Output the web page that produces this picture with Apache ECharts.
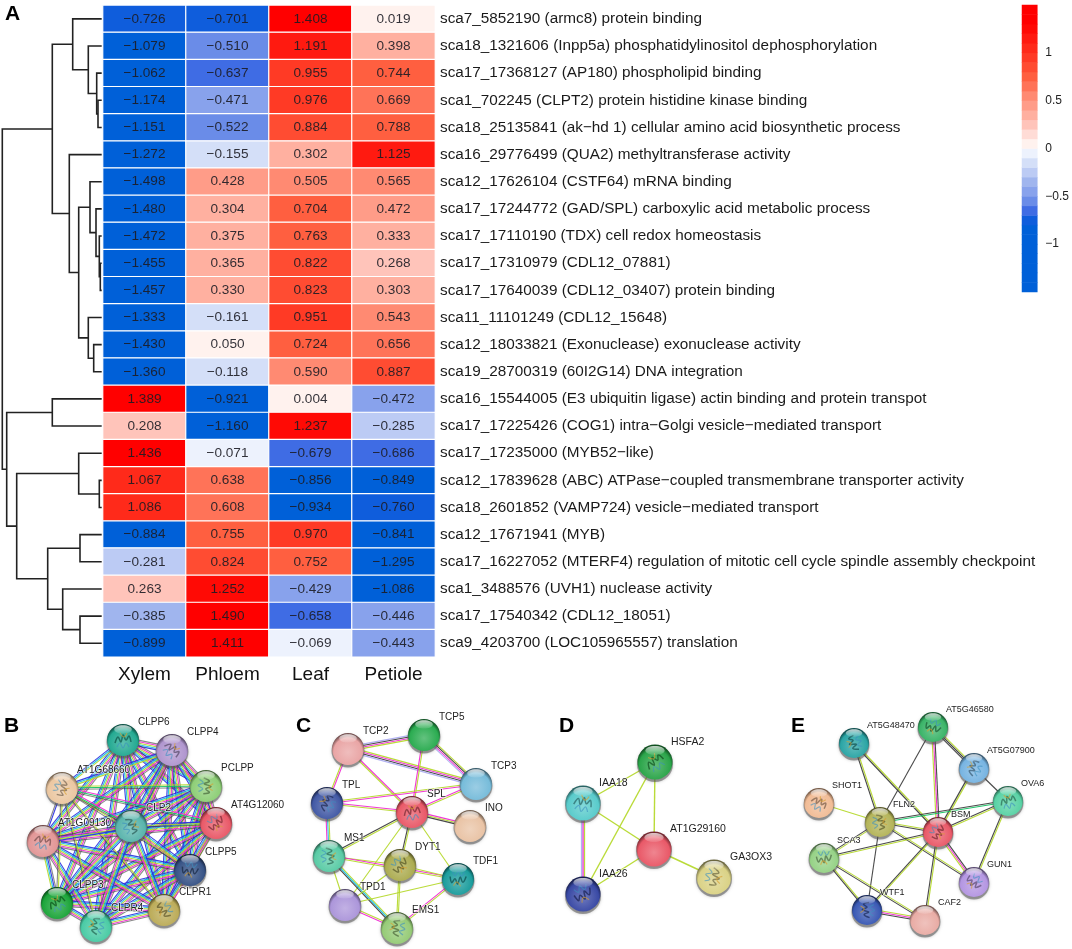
<!DOCTYPE html>
<html><head><meta charset="utf-8">
<style>html,body{margin:0;padding:0;background:#fff}#c{width:1072px;height:949px}</style>
<script src="https://cdn.jsdelivr.net/npm/echarts@6/dist/echarts.min.js"></script>
</head><body><div id="c"></div>
<script>
const tissues = ['Xylem','Phloem','Leaf','Petiole'];
const rowLabels = [
'sca7_5852190 (armc8) protein binding',
'sca18_1321606 (Inpp5a) phosphatidylinositol dephosphorylation',
'sca17_17368127 (AP180) phospholipid binding',
'sca1_702245 (CLPT2) protein histidine kinase binding',
'sca18_25135841 (ak\u2212hd 1) cellular amino acid biosynthetic process',
'sca16_29776499 (QUA2) methyltransferase activity',
'sca12_17626104 (CSTF64) mRNA binding',
'sca17_17244772 (GAD/SPL) carboxylic acid metabolic process',
'sca17_17110190 (TDX) cell redox homeostasis',
'sca17_17310979 (CDL12_07881)',
'sca17_17640039 (CDL12_03407) protein binding',
'sca11_11101249 (CDL12_15648)',
'sca12_18033821 (Exonuclease) exonuclease activity',
'sca19_28700319 (60I2G14) DNA integration',
'sca16_15544005 (E3 ubiquitin ligase) actin binding and protein transpot',
'sca17_17225426 (COG1) intra\u2212Golgi vesicle\u2212mediated transport',
'sca17_17235000 (MYB52\u2212like)',
'sca12_17839628 (ABC) ATPase\u2212coupled transmembrane transporter activity',
'sca18_2601852 (VAMP724) vesicle\u2212mediated transport',
'sca12_17671941 (MYB)',
'sca17_16227052 (MTERF4) regulation of mitotic cell cycle spindle assembly checkpoint',
'sca1_3488576 (UVH1) nuclease activity',
'sca17_17540342 (CDL12_18051)',
'sca9_4203700 (LOC105965557) translation'];
const xylem = [-0.726,-1.079,-1.062,-1.174,-1.151,-1.272,-1.498,-1.480,-1.472,-1.455,-1.457,-1.333,-1.430,-1.360,1.389,0.208,1.436,1.067,1.086,-0.884,-0.281,0.263,-0.385,-0.899];
const phloem = [-0.701,-0.510,-0.637,-0.471,-0.522,-0.155,0.428,0.304,0.375,0.365,0.330,-0.161,0.050,-0.118,-0.921,-1.160,-0.071,0.638,0.608,0.755,0.824,1.252,1.490,1.411];
const leaf = [1.408,1.191,0.955,0.976,0.884,0.302,0.505,0.704,0.763,0.822,0.823,0.951,0.724,0.590,0.004,1.237,-0.679,-0.856,-0.934,0.970,0.752,-0.429,-0.658,-0.069];
const petiole = [0.019,0.398,0.744,0.669,0.788,1.125,0.565,0.472,0.333,0.268,0.303,0.543,0.656,0.887,-0.472,-0.285,-0.686,-0.849,-0.760,-0.841,-1.295,-1.086,-0.446,-0.443];
// colour of each 0.1-wide band from -1.5 up to 1.5
const bandColors = ['#0060d8','#0060d8','#0060d8','#0060d8','#0060d8','#0060d8','#0060d8',
'#0f5ddc','#3f6ce4','#6a8ce8','#88a2ec','#a0b5ee','#bccbf4','#d4dff8','#edf2fd',
'#fff2ee','#ffdcd6','#ffc4ba','#ffb0a0','#ff9c88','#ff8a72','#ff7358','#ff5f40','#ff4c32','#ff3a25','#ff2a1a','#ff1a10','#ff0a05','#ff0000','#ff0000'];
const colorTicks = [-1.5,-1,-0.5,0,0.5,1,1.5];
// dendrogram merges: [childA, childB, height]; children below 24 are rows, otherwise merge index + 24
const merges = [[3,4,3.7],[2,24,5],[1,25,13.4],[0,26,29],[9,10,1.4],[8,28,2.4],[7,29,5.7],[6,30,11.7],[12,13,8],[11,32,13.4],[31,33,23],[5,34,32.4],[27,35,49.4],[14,15,49.4],[17,18,2.4],[16,38,23],[19,20,21.7],[22,23,21.7],[21,41,39],[40,42,54],[39,43,85],[37,44,95],[36,45,99.4]];
// network panels
const netNames = ['CLPP6','CLPP4','PCLPP','AT4G12060','CLPP5','CLPR1','CLPR4','CLPP3','AT1G09130','CLP2','AT1G68660',
'TCP2','TCP5','TCP3','TPL','SPL','INO','MS1','DYT1','TDF1','TPD1','EMS1',
'HSFA2','IAA18','AT1G29160','GA3OX3','IAA26',
'AT5G46580','AT5G48470','AT5G07900','OVA6','SHOT1','FLN2','BSM','SCA3','GUN1','WTF1','CAF2'];
const netX = [123,172,206,216,190,164,96,57,43,131,62, 348,424,476,327,412,470,329,400,458,345,397, 655,583,654,714,583, 933,854,974,1008,819,880,938,824,974,867,925];
const netY = [740,750,786,823,870,910,926,903,841,826,788, 749,735,784,803,812,826,856,865,879,905,928, 762,803,849,877,894, 727,743,768,801,803,822,832,858,882,910,920];
const netColor = ['#18a58c','#ac90cc','#88cc70','#e85060','#2c4a80','#b8a850','#40c8a0','#10a030','#e09090','#50b0a8','#eac49c',
'#e8a0a0','#20a848','#70b8d8','#3850a0','#e85060','#e8c0a0','#50c8a0','#a8a848','#109898','#a890d8','#90c870',
'#20a040','#50c8c8','#e85060','#d8d080','#3040a0',
'#30b060','#20a0a0','#70b0e0','#50d0a0','#f0b890','#b0b050','#e85060','#90d080','#b090e0','#3050b0','#e8a8a0'];
const netEdges = [
['CLPP6','CLPP4','kmlcb'],['CLPP6','PCLPP','kmlcb'],['CLPP6','AT4G12060','kmlcb'],['CLPP6','CLPP5','kmlcb'],['CLPP6','CLPR1','kmlcb'],['CLPP6','CLPR4','kmlcb'],['CLPP6','CLPP3','kmlcb'],['CLPP6','AT1G09130','kmlcb'],['CLPP6','CLP2','kmlcb'],['CLPP6','AT1G68660','lcb'],
['CLPP4','PCLPP','kmlcb'],['CLPP4','AT4G12060','kmlcb'],['CLPP4','CLPP5','kmlcb'],['CLPP4','CLPR1','kmlcb'],['CLPP4','CLPR4','kmlcb'],['CLPP4','CLPP3','kmlcb'],['CLPP4','AT1G09130','kmlcb'],['CLPP4','CLP2','kmlcb'],['CLPP4','AT1G68660','lcb'],
['PCLPP','AT4G12060','kmlb'],['PCLPP','CLPP5','kmlcb'],['PCLPP','CLPR1','kmlcb'],['PCLPP','CLPR4','kmlcb'],['PCLPP','CLPP3','kmlcb'],['PCLPP','AT1G09130','kmlcb'],['PCLPP','CLP2','kmlcb'],['PCLPP','AT1G68660','kgl'],
['AT4G12060','CLPP5','lkm'],['AT4G12060','CLPR1','kmlcb'],['AT4G12060','CLPR4','kmlcb'],['AT4G12060','CLPP3','kmlcb'],['AT4G12060','AT1G09130','kmlcb'],['AT4G12060','CLP2','klb'],['AT4G12060','AT1G68660','kgm'],
['CLPP5','CLPR1','mlcb'],['CLPP5','CLPR4','kmlcb'],['CLPP5','CLPP3','kmlcb'],['CLPP5','AT1G09130','kmlcb'],['CLPP5','CLP2','kmlcb'],['CLPP5','AT1G68660','kl'],
['CLPR1','CLPR4','kmlcb'],['CLPR1','CLPP3','kmlcb'],['CLPR1','AT1G09130','kmlcb'],['CLPR1','CLP2','kmlcb'],['CLPR1','AT1G68660','kl'],
['CLPR4','CLPP3','kmlcb'],['CLPR4','AT1G09130','kmlcb'],['CLPR4','CLP2','kmlcb'],['CLPR4','AT1G68660','kl'],
['CLPP3','AT1G09130','lcbk'],['CLPP3','CLP2','kmlcb'],['CLPP3','AT1G68660','kl'],
['AT1G09130','CLP2','kmlb'],['AT1G09130','AT1G68660','kb'],['CLP2','AT1G68660','kgm'],
['TCP2','TCP5','pkml'],['TCP2','TCP3','lmkp'],['TCP5','TCP3','lkmp'],['TCP2','TPL','ml'],['TCP2','SPL','ml'],['TCP5','SPL','lm'],['TCP3','SPL','lm'],['TCP3','TPL','ml'],['TPL','SPL','ml'],['TPL','MS1','lcm'],
['SPL','INO','mlk'],['SPL','MS1','lk'],['SPL','DYT1','lk'],['SPL','TPD1','l'],['SPL','TDF1','l'],['MS1','DYT1','l'],['MS1','TDF1','ml'],['DYT1','TDF1','l'],['MS1','TPD1','l'],['MS1','EMS1','lck'],['TPD1','DYT1','l'],['TPD1','TDF1','l'],['TPD1','EMS1','lm'],['DYT1','EMS1','ll'],['TDF1','EMS1','lm'],
['HSFA2','IAA18','l'],['HSFA2','AT1G29160','l'],['HSFA2','IAA26','l'],['IAA18','AT1G29160','l'],['IAA18','IAA26','lmp'],['IAA26','AT1G29160','l'],['AT1G29160','GA3OX3','l'],
['AT5G46580','AT5G07900','lkk'],['AT5G46580','BSM','kml'],['AT5G46580','FLN2','k'],['AT5G48470','FLN2','lk'],['AT5G48470','BSM','lk'],['AT5G07900','OVA6','k'],['AT5G07900','BSM','lk'],['OVA6','FLN2','gk'],['OVA6','BSM','lk'],['OVA6','GUN1','lk'],['SHOT1','FLN2','l'],['FLN2','BSM','lk'],['FLN2','SCA3','lk'],['FLN2','GUN1','lk'],['FLN2','WTF1','k'],['BSM','SCA3','lk'],['BSM','GUN1','kml'],['BSM','WTF1','lk'],['BSM','CAF2','lk'],['SCA3','WTF1','lk'],['SCA3','CAF2','lk'],['WTF1','CAF2','lmk']];
const panelLetters = [['A',5,14],['B',4,726],['C',296,726],['D',559,726],['E',791,726]];

const FONT = '"Liberation Sans", Arial, sans-serif';
const edgeInk = {b:'#2a30e0',c:'#18c0e0',m:'#f028d0',l:'#b4d828',k:'#3a3a3a',p:'#aaaaf0',g:'#10c060'};
const minus = s => String(s).replace('-','\u2212');

// heat cells
const columns = [xylem,phloem,leaf,petiole];
const cells = [];
columns.forEach((col,c)=>col.forEach((v,r)=>cells.push([c,r,v])));
// colour bands
const pieces = bandColors.map((color,i)=>({min:-1.5+i*0.1-(i===0?0.01:0),max:-1.5+(i+1)*0.1,color}));
const bandCells = bandColors.map((_,i)=>[0,i,-1.45+i*0.1]);
// dendrogram
const mergeY = [];
const nodeY = i => i<24 ? i : mergeY[i-24];
const nodeH = i => i<24 ? 0 : merges[i-24][2];
merges.forEach(m=>mergeY.push((nodeY(m[0])+nodeY(m[1]))/2));
const treeRows = merges.map(m=>[nodeH(m[0]),nodeY(m[0]),m[2],nodeY(m[1]),nodeH(m[1])]);
// network rows
const idx = n => netNames.indexOf(n);
const edgeRows = netEdges.map(e=>[netX[idx(e[0])],netY[idx(e[0])],netX[idx(e[1])],netY[idx(e[1])]]);
const nodeRows = netNames.map((n,i)=>[netX[i],netY[i]]);
const panelOf = i => i<11?'B':i<22?'C':i<27?'D':'E';
const radius = {B:16,C:16,D:17.5,E:15};
const labelFont = {B:10,C:10,D:10.5,E:9};
const labelOff = {B:[15,-18],C:[15,-18],D:[16,-20],E:[13,-17]};
const plainNodes = ['TCP2','TCP3','TCP5','INO','TPD1','AT1G29160','CAF2'];
const scribbleA = [[-8,3],[-5,-3],[-2,2],[0,-5],[3,0],[6,-4],[8,2]];
const scribbleB = [[-6,7],[-3,3],[0,8],[3,3],[6,7]];
const scribbleC = [[-3,-7],[1,-3],[4,-7]];

function mix(hex,t,target){
  const n=parseInt(hex.slice(1),16),r=n>>16,g=(n>>8)&255,b=n&255,T=target===undefined?255:target;
  return 'rgb('+[r,g,b].map(v=>Math.round(v+(T-v)*t)).join(',')+')';
}
function renderEdge(params,api){
  const a=api.coord([api.value(0),api.value(1)]),b=api.coord([api.value(2),api.value(3)]);
  const e=netEdges[params.dataIndex],inks=e[2],from=idx(e[0]);
  const single=from>=22&&from<27,dense=from<11;
  const dx=b[0]-a[0],dy=b[1]-a[1],len=Math.hypot(dx,dy),nx=-dy/len,ny=dx/len,gap=1.45;
  const children=inks.split('').map((k,i)=>{
    const o=(i-(inks.length-1)/2)*gap;
    return {type:'line',shape:{x1:a[0]+nx*o,y1:a[1]+ny*o,x2:b[0]+nx*o,y2:b[1]+ny*o},
      style:{stroke:edgeInk[k],lineWidth:single?1.4:1.1,opacity:dense&&k==='k'?0.6:0.92}};
  });
  return {type:'group',children};
}
function renderNode(params,api){
  const i=params.dataIndex,p=api.coord([api.value(0),api.value(1)]),r=radius[panelOf(i)],c=netColor[i];
  const kids=[
    {type:'circle',shape:{cx:p[0],cy:p[1]+2,r:r+0.5},style:{fill:'rgba(90,90,90,0.55)',shadowBlur:3,shadowColor:'rgba(0,0,0,0.4)'}},
    {type:'circle',shape:{cx:p[0],cy:p[1],r},style:{fill:{type:'radial',x:0.5,y:0.6,r:0.56,colorStops:[
      {offset:0,color:mix(c,0.3)},{offset:0.8,color:mix(c,0.05)},{offset:1,color:mix(c,0.5,0)}]}}}
  ];
  if(!plainNodes.includes(netNames[i])){
    const s=r/16,ang=i*0.83,cs=Math.cos(ang),sn=Math.sin(ang);
    const T=pts=>pts.map(q=>[p[0]+s*(q[0]*cs-q[1]*sn),p[1]+s*(q[0]*sn+q[1]*cs)]);
    kids.push({type:'polyline',shape:{points:T(scribbleA),smooth:0.4},style:{fill:'none',stroke:mix(c,0.5,0),lineWidth:1.5,opacity:0.7}});
    kids.push({type:'polyline',shape:{points:T(scribbleB),smooth:0.4},style:{fill:'none',stroke:'#3a8fc0',lineWidth:1.2,opacity:0.6}});
    kids.push({type:'polyline',shape:{points:T(scribbleC),smooth:0.4},style:{fill:'none',stroke:'#d8a030',lineWidth:1.1,opacity:0.65}});
  }
  kids.push({type:'ellipse',shape:{cx:p[0],cy:p[1]-r*0.66,rx:r*0.55,ry:r*0.26},style:{fill:{type:'linear',x:0,y:0,x2:0,y2:1,colorStops:[
    {offset:0,color:'rgba(255,255,255,0.75)'},{offset:1,color:'rgba(255,255,255,0.1)'}]}}});
  return {type:'group',children:kids};
}
function renderLabel(params,api){
  const i=params.dataIndex,p=api.coord([api.value(0),api.value(1)]),k=panelOf(i),o=labelOff[k];
  return {type:'text',style:{text:netNames[i],x:p[0]+o[0],y:p[1]+o[1],textAlign:'left',textVerticalAlign:'middle',
    fill:'#222',font:labelFont[k]+'px '+FONT,stroke:'rgba(255,255,255,0.75)',lineWidth:1.5}};
}
function renderTree(params,api){
  const P=(h,y)=>api.coord([h,y]);
  const v=[0,1,2,3,4].map(d=>api.value(d));
  return {type:'polyline',shape:{points:[P(v[0],v[1]),P(v[2],v[1]),P(v[2],v[3]),P(v[4],v[3])]},
    style:{fill:'none',stroke:'#222',lineWidth:1.6}};
}
const option={
  animation:false,
  backgroundColor:'#fff',
  textStyle:{fontFamily:FONT},
  grid:[
    {left:103,top:5.3,width:332,height:651.5},
    {left:1.7,top:5.3,width:100,height:651.5},
    {left:1022,top:5,width:19,height:287},
    {left:0,top:680,width:1072,height:269}
  ],
  xAxis:[
    {gridIndex:0,type:'category',data:tissues,position:'bottom',axisLine:{show:false},axisTick:{show:false},splitLine:{show:false},
      axisLabel:{fontSize:19,color:'#111',margin:8,fontFamily:FONT,interval:0}},
    {gridIndex:1,type:'value',min:0,max:100,inverse:true,show:false,splitLine:{show:false}},
    {gridIndex:2,type:'category',data:[''],show:false},
    {gridIndex:3,type:'value',min:0,max:1072,show:false,splitLine:{show:false}}
  ],
  yAxis:[
    {gridIndex:0,type:'category',data:rowLabels,inverse:true,position:'right',axisLine:{show:false},axisTick:{show:false},splitLine:{show:false},
      axisLabel:{fontSize:15.3,color:'#1a1a1a',margin:5,align:'left',fontFamily:FONT,interval:0,padding:[4,0,0,0]}},
    {gridIndex:1,type:'value',min:-0.5,max:23.5,inverse:true,show:false,splitLine:{show:false}},
    {gridIndex:2,type:'category',data:bandColors.map((_,i)=>String(i)),show:false},
    {gridIndex:2,type:'value',min:colorTicks[0],max:colorTicks[colorTicks.length-1],interval:0.5,position:'right',axisLine:{show:false},axisTick:{show:false},splitLine:{show:false},
      axisLabel:{fontSize:12,color:'#222',margin:8,fontFamily:FONT,padding:[2,0,0,0],formatter:v=>Math.abs(v)===1.5?'':minus(v)}},
    {gridIndex:3,type:'value',min:680,max:949,inverse:true,show:false,splitLine:{show:false}}
  ],
  visualMap:[{type:'piecewise',show:false,dimension:2,seriesIndex:[0,1],pieces}],
  series:[
    {type:'heatmap',xAxisIndex:0,yAxisIndex:0,data:cells,silent:true,
      itemStyle:{borderColor:'#fff',borderWidth:1.2},
      label:{show:true,fontSize:13.6,color:'rgba(28,28,35,0.9)',fontFamily:FONT,padding:[2,0,0,0],
        formatter:p=>minus(p.value[2].toFixed(3))}},
    {type:'heatmap',xAxisIndex:2,yAxisIndex:2,data:bandCells,silent:true,itemStyle:{borderWidth:0}},
    {type:'custom',xAxisIndex:1,yAxisIndex:1,data:treeRows,renderItem:renderTree,silent:true,clip:false},
    {type:'custom',xAxisIndex:3,yAxisIndex:4,data:edgeRows,renderItem:renderEdge,silent:true,z:3},
    {type:'custom',xAxisIndex:3,yAxisIndex:4,data:nodeRows,renderItem:renderNode,silent:true,z:4},
    {type:'custom',xAxisIndex:3,yAxisIndex:4,data:nodeRows,renderItem:renderLabel,silent:true,z:5}
  ],
  graphic:panelLetters.map(l=>({type:'text',x:l[1],y:l[2],style:{text:l[0],font:'bold 21px '+FONT,fill:'#000',textVerticalAlign:'middle'}}))
};
echarts.init(document.getElementById('c'),null,{renderer:'canvas'}).setOption(option);
</script></body></html>
